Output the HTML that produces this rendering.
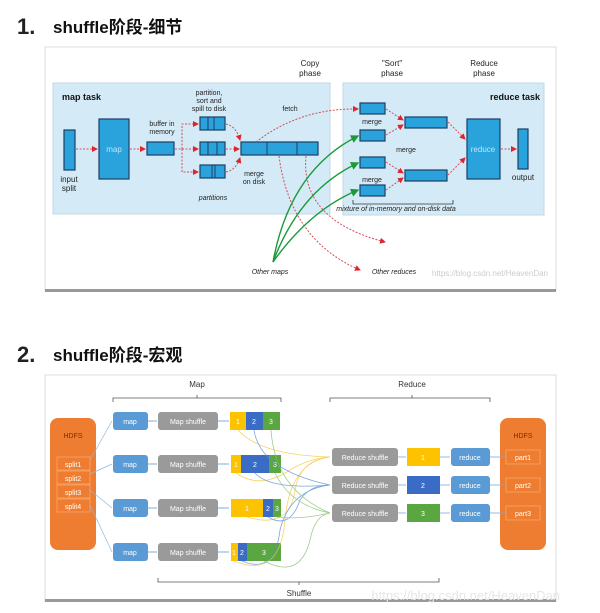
<!DOCTYPE html>
<html><head><meta charset="utf-8"><style>
html,body{margin:0;padding:0;background:#fff;width:600px;height:613px;overflow:hidden}
svg{display:block}
text{font-family:"Liberation Sans","Noto Sans CJK SC",sans-serif}
</style></head><body>
<svg width="600" height="613" viewBox="0 0 600 613" xmlns="http://www.w3.org/2000/svg">
<defs>
<marker id="ar" markerWidth="6" markerHeight="6" refX="5" refY="3" orient="auto"><path d="M0,0L6,3L0,6z" fill="#e0242c"/></marker>
<marker id="ag" markerWidth="6" markerHeight="6" refX="5" refY="3" orient="auto"><path d="M0,0L6,3L0,6z" fill="#1a9a3a"/></marker>
<marker id="ab" markerWidth="4" markerHeight="4" refX="3" refY="2" orient="auto"><path d="M0,0L4,2L0,4z" fill="#5a9bd5"/></marker>
</defs>
<!-- titles -->
<text x="17" y="34" font-size="22" font-weight="bold" fill="#222">1.</text>
<text x="53" y="33" font-size="17" font-weight="bold" fill="#111">shuffle阶段-细节</text>
<text x="17" y="362" font-size="22" font-weight="bold" fill="#222">2.</text>
<text x="53" y="361" font-size="17" font-weight="bold" fill="#111">shuffle阶段-宏观</text>

<!-- frame 1 -->
<rect x="45" y="47" width="511" height="244" fill="#fff" stroke="#ddd"/>
<rect x="45" y="289" width="511" height="3" fill="#999"/>
<rect x="53" y="83" width="277" height="131" fill="#d4ebf7" stroke="#c0d8e6"/>
<rect x="343" y="83" width="201" height="132" fill="#d4ebf7" stroke="#c0d8e6"/>
<g font-size="8" fill="#222" text-anchor="middle">
<text x="310" y="66">Copy</text><text x="310" y="76">phase</text>
<text x="392" y="66">"Sort"</text><text x="392" y="76">phase</text>
<text x="484" y="66">Reduce</text><text x="484" y="76">phase</text>
<text x="209" y="95" font-size="7">partition,</text><text x="209" y="103" font-size="7">sort and</text><text x="209" y="111" font-size="7">spill to disk</text>
<text x="162" y="126" font-size="7">buffer in</text><text x="162" y="134" font-size="7">memory</text>
<text x="290" y="111" font-size="7">fetch</text>
<text x="69" y="182">input</text><text x="69" y="191">split</text>
<text x="254" y="176" font-size="7">merge</text><text x="254" y="184" font-size="7">on disk</text>
<text x="213" y="200" font-size="7" font-style="italic">partitions</text>
<text x="406" y="152" font-size="7">merge</text>
<text x="372" y="124" font-size="7">merge</text>
<text x="372" y="182" font-size="7">merge</text>
<text x="523" y="180">output</text>
<text x="396" y="211" font-size="7" font-style="italic">mixture of in-memory and on-disk data</text>
<text x="270" y="274" font-size="7" font-style="italic">Other maps</text>
<text x="394" y="274" font-size="7" font-style="italic">Other reduces</text>
</g>
<text x="62" y="100" font-size="9" font-weight="bold" fill="#111">map task</text>
<text x="540" y="100" font-size="9" font-weight="bold" fill="#111" text-anchor="end">reduce task</text>
<g fill="#2aa3dc" stroke="#1d3e63" stroke-width="1.2">
<rect x="64" y="130" width="11" height="40"/>
<rect x="99" y="119" width="30" height="60"/>
<rect x="147" y="142" width="27" height="13"/>
<rect x="200" y="117" width="25" height="13"/><rect x="200" y="142" width="25" height="13"/><rect x="200" y="165" width="25" height="13"/>
<rect x="241" y="142" width="77" height="13"/>
<rect x="360" y="103" width="25" height="11"/><rect x="360" y="130" width="25" height="11"/>
<rect x="360" y="157" width="25" height="11"/><rect x="360" y="185" width="25" height="11"/>
<rect x="405" y="117" width="42" height="11"/><rect x="405" y="170" width="42" height="11"/>
<rect x="467" y="119" width="33" height="60"/>
<rect x="518" y="129" width="10" height="40"/>
</g>
<g stroke="#1d3e63" stroke-width="1">
<line x1="208" y1="117" x2="208" y2="130"/><line x1="214" y1="117" x2="214" y2="130"/>
<line x1="208" y1="142" x2="208" y2="155"/><line x1="217" y1="142" x2="217" y2="155"/>
<line x1="212" y1="165" x2="212" y2="178"/><line x1="215" y1="165" x2="215" y2="178"/>
<line x1="267" y1="142" x2="267" y2="155"/><line x1="297" y1="142" x2="297" y2="155"/>
</g>
<text x="114" y="152" font-size="8" fill="#bfe6f7" text-anchor="middle">map</text>
<text x="483" y="152" font-size="8" fill="#bfe6f7" text-anchor="middle">reduce</text>
<g fill="none" stroke="#d2505a" stroke-width="1" stroke-dasharray="2,1.5">
<line x1="76" y1="149" x2="97" y2="149" marker-end="url(#ar)"/>
<line x1="130" y1="149" x2="145" y2="149" marker-end="url(#ar)"/>
<path d="M175,149 H182 V124 H198" marker-end="url(#ar)"/>
<line x1="175" y1="149" x2="198" y2="149" marker-end="url(#ar)"/>
<path d="M175,149 H182 V172 H198" marker-end="url(#ar)"/>
<path d="M226,124 Q236,126 240,140" marker-end="url(#ar)"/>
<line x1="226" y1="149" x2="239" y2="149" marker-end="url(#ar)"/>
<path d="M226,172 Q236,170 240,158" marker-end="url(#ar)"/>
<path d="M256,142 Q300,108 358,109" marker-end="url(#ar)"/>
<path d="M279,156 Q290,240 360,270" marker-end="url(#ar)"/>
<path d="M306,156 Q300,220 385,242" marker-end="url(#ar)"/>
<line x1="386" y1="109" x2="403" y2="120" marker-end="url(#ar)"/>
<line x1="386" y1="135" x2="403" y2="125" marker-end="url(#ar)"/>
<line x1="386" y1="162" x2="403" y2="173" marker-end="url(#ar)"/>
<line x1="386" y1="190" x2="403" y2="178" marker-end="url(#ar)"/>
<line x1="448" y1="122" x2="465" y2="139" marker-end="url(#ar)"/>
<line x1="448" y1="175" x2="465" y2="158" marker-end="url(#ar)"/>
<line x1="501" y1="149" x2="516" y2="149" marker-end="url(#ar)"/>
</g>
<g fill="none" stroke="#1a9a3a" stroke-width="1.4">
<path d="M273,262 Q290,170 358,136" marker-end="url(#ag)"/>
<path d="M273,262 Q300,190 358,163" marker-end="url(#ag)"/>
<path d="M273,262 Q310,210 358,190" marker-end="url(#ag)"/>
</g>
<path d="M353,200 v4 h100 v-4" fill="none" stroke="#333" stroke-width="0.8"/>
<text x="548" y="276" font-size="8" fill="#ccc" text-anchor="end">https://blog.csdn.net/HeavenDan</text>

<!-- frame 2 -->
<rect x="45" y="375" width="511" height="226" fill="#fff" stroke="#ddd"/>
<rect x="45" y="599" width="511" height="3" fill="#999"/>
<g font-size="8" fill="#333" text-anchor="middle">
<text x="197" y="387">Map</text><text x="412" y="387">Reduce</text><text x="299" y="596">Shuffle</text>
</g>
<g fill="none" stroke="#555" stroke-width="0.8">
<path d="M113,402 v-4 h168 v4 M197,398 v-3"/>
<path d="M330,402 v-4 h160 v4 M412,398 v-3"/>
<path d="M158,578 v4 h281 v-4 M299,582 v3"/>
</g>
<rect x="50" y="418" width="46" height="132" rx="8" fill="#ee7d31"/>
<rect x="500" y="418" width="46" height="132" rx="8" fill="#ee7d31"/>
<g font-size="7" fill="#fde" text-anchor="middle">
<text x="73" y="438" fill="#7a2d00">HDFS</text><text x="523" y="438" fill="#7a2d00">HDFS</text>
</g>
<g fill="none" stroke="#f9a66b" stroke-width="0.8">
<rect x="57" y="457" width="33" height="13"/><rect x="57" y="471" width="33" height="13"/>
<rect x="57" y="485" width="33" height="13"/><rect x="57" y="499" width="33" height="13"/>
<rect x="506" y="450" width="34" height="14"/><rect x="506" y="478" width="34" height="14"/><rect x="506" y="506" width="34" height="14"/>
</g>
<g font-size="7" fill="#fff" text-anchor="middle">
<text x="73" y="467">split1</text><text x="73" y="481">split2</text><text x="73" y="495">split3</text><text x="73" y="509">split4</text>
<text x="523" y="460">part1</text><text x="523" y="488">part2</text><text x="523" y="516">part3</text>
</g>
<g stroke="#8fb8e0" stroke-width="0.7" fill="none">
<line x1="90" y1="460" x2="112" y2="421"/><line x1="90" y1="474" x2="112" y2="464"/>
<line x1="90" y1="490" x2="112" y2="508"/><line x1="90" y1="505" x2="112" y2="552"/>
</g>
<g font-size="7" fill="#fff" text-anchor="middle">
<g id="r1">
<rect x="113" y="412" width="35" height="18" rx="3" fill="#5b9bd5"/><text x="130" y="424">map</text>
<rect x="158" y="412" width="60" height="18" rx="3" fill="#9a9a9a"/><text x="188" y="424">Map shuffle</text>
</g>
<use href="#r1" y="43"/><use href="#r1" y="87"/><use href="#r1" y="131"/>
</g>
<g stroke="#5b9bd5" stroke-width="0.8">
<line x1="148" y1="421" x2="157" y2="421"/><line x1="148" y1="464" x2="157" y2="464"/><line x1="148" y1="508" x2="157" y2="508"/><line x1="148" y1="552" x2="157" y2="552"/>
<line x1="218" y1="421" x2="229" y2="421"/><line x1="218" y1="464" x2="229" y2="464"/><line x1="218" y1="508" x2="229" y2="508"/><line x1="218" y1="552" x2="229" y2="552"/>
</g>
<g font-size="7" fill="#fff" text-anchor="middle">
<rect x="230" y="412" width="16" height="18" fill="#fdc300"/><rect x="246" y="412" width="17" height="18" fill="#3a6cc6"/><rect x="263" y="412" width="17" height="18" fill="#5aa640"/>
<text x="238" y="424">1</text><text x="254" y="424">2</text><text x="271" y="424">3</text>
<rect x="231" y="455" width="10" height="18" fill="#fdc300"/><rect x="241" y="455" width="28" height="18" fill="#3a6cc6"/><rect x="269" y="455" width="12" height="18" fill="#5aa640"/>
<text x="236" y="467">1</text><text x="255" y="467">2</text><text x="275" y="467">3</text>
<rect x="231" y="499" width="32" height="18" fill="#fdc300"/><rect x="263" y="499" width="10" height="18" fill="#3a6cc6"/><rect x="273" y="499" width="8" height="18" fill="#5aa640"/>
<text x="247" y="511">1</text><text x="268" y="511">2</text><text x="277" y="511">3</text>
<rect x="231" y="543" width="7" height="18" fill="#fdc300"/><rect x="238" y="543" width="9" height="18" fill="#3a6cc6"/><rect x="247" y="543" width="34" height="18" fill="#5aa640"/>
<text x="234" y="555">1</text><text x="242" y="555">2</text><text x="264" y="555">3</text>
</g>
<g fill="none" stroke-width="0.8" opacity="0.8">
<g stroke="#f5c842">
<path d="M238,430 Q260,455 330,457"/><path d="M236,473 Q260,490 290,470 Q310,458 330,457"/>
<path d="M247,517 Q290,530 295,490 Q300,460 330,457"/><path d="M234,561 Q280,580 285,520 Q290,462 330,457"/>
</g>
<g stroke="#5b8fd8">
<path d="M254,430 Q260,470 330,485"/><path d="M255,473 Q270,490 330,485"/>
<path d="M268,517 Q290,530 300,500 Q310,485 330,485"/><path d="M242,561 Q275,575 280,530 Q290,490 330,485"/>
</g>
<g stroke="#86c06a">
<path d="M271,430 Q275,490 330,513"/><path d="M275,473 Q290,505 330,513"/>
<path d="M277,517 Q300,520 330,513"/><path d="M264,561 Q300,580 310,540 Q315,515 330,513"/>
</g>
</g>
<g font-size="7" fill="#fff" text-anchor="middle">
<rect x="332" y="448" width="66" height="18" rx="3" fill="#9a9a9a"/><text x="365" y="460">Reduce shuffle</text>
<rect x="332" y="476" width="66" height="18" rx="3" fill="#9a9a9a"/><text x="365" y="488">Reduce shuffle</text>
<rect x="332" y="504" width="66" height="18" rx="3" fill="#9a9a9a"/><text x="365" y="516">Reduce shuffle</text>
<rect x="407" y="448" width="33" height="18" fill="#fdc300"/><text x="423" y="460">1</text>
<rect x="407" y="476" width="33" height="18" fill="#3a6cc6"/><text x="423" y="488">2</text>
<rect x="407" y="504" width="33" height="18" fill="#5aa640"/><text x="423" y="516">3</text>
<rect x="451" y="448" width="39" height="18" rx="3" fill="#5b9bd5"/><text x="470" y="460">reduce</text>
<rect x="451" y="476" width="39" height="18" rx="3" fill="#5b9bd5"/><text x="470" y="488">reduce</text>
<rect x="451" y="504" width="39" height="18" rx="3" fill="#5b9bd5"/><text x="470" y="516">reduce</text>
</g>
<g stroke="#7aa7d8" stroke-width="0.8">
<line x1="398" y1="457" x2="406" y2="457"/><line x1="398" y1="485" x2="406" y2="485"/><line x1="398" y1="513" x2="406" y2="513"/>
<line x1="440" y1="457" x2="450" y2="457"/><line x1="440" y1="485" x2="450" y2="485"/><line x1="440" y1="513" x2="450" y2="513"/>
<line x1="490" y1="457" x2="505" y2="457"/><line x1="490" y1="485" x2="505" y2="485"/><line x1="490" y1="513" x2="505" y2="513"/>
</g>
<text x="560" y="600" font-size="13" fill="#e6e6e6" text-anchor="end">https://blog.csdn.net/HeavenDan</text>
</svg>
</body></html>
